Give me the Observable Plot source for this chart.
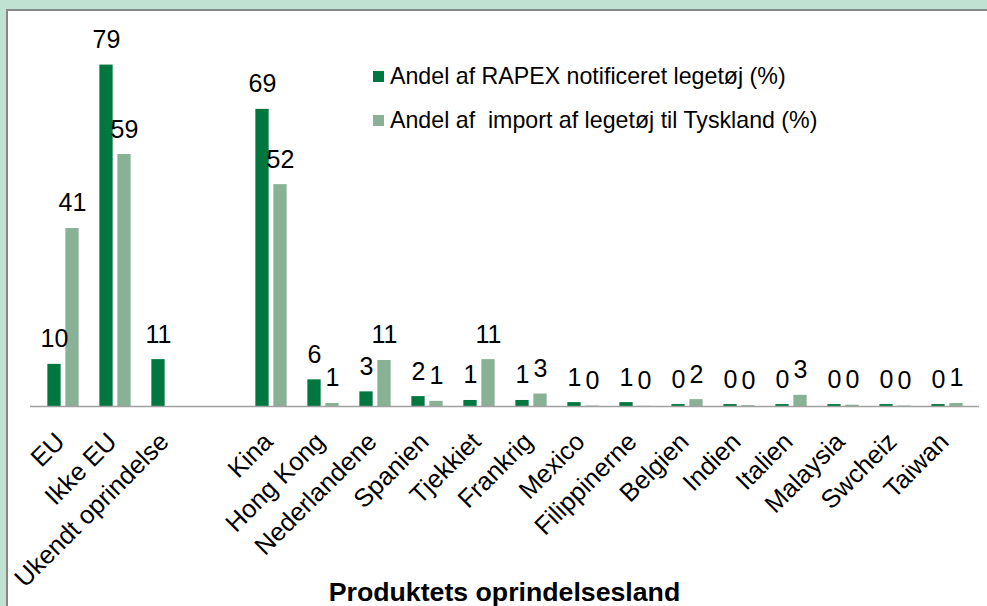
<!DOCTYPE html>
<html><head><meta charset="utf-8">
<script src="https://cdn.jsdelivr.net/npm/d3@7"></script>
<script src="https://cdn.jsdelivr.net/npm/@observablehq/plot@0.6"></script>
<style>
html,body{margin:0;padding:0;width:987px;height:606px;overflow:hidden;background:#bfe2d2;font-family:"Liberation Sans",Arial,sans-serif;}
#panel{position:absolute;left:6px;top:9px;width:1000px;height:620px;border-left:2px solid #878787;border-top:2px solid #878787;background:#fff;}
#chart{position:absolute;left:0;top:0;}
#legend{position:absolute;left:373px;top:63px;}
.row{display:flex;align-items:center;height:26px;margin-bottom:18px;font-size:23.2px;line-height:26px;white-space:pre;color:#000}
.sw{width:11px;height:11px;margin-right:6px;flex:none}
#xlabel{position:absolute;left:30px;width:949px;top:579px;text-align:center;font-weight:bold;font-size:26.7px;line-height:26px;color:#000}
</style></head>
<body><div id="panel"></div><div id="chart"></div><div id="legend"></div><div id="xlabel"></div>
<script>
const categories = ["EU", "Ikke EU", "Ukendt oprindelse", "Kina", "Hong Kong", "Nederlandene", "Spanien", "Tjekkiet", "Frankrig", "Mexico", "Filippinerne", "Belgien", "Indien", "Italien", "Malaysia", "Swcheiz", "Taiwan"];
const rapexShare  = [9.8, 79.4, 10.9, 69.1, 6.2, 3.4, 2.3, 1.4, 1.4, 0.9, 0.9, 0.45, 0.45, 0.45, 0.45, 0.45, 0.45];
const importShare = [41.4, 58.6, null, 51.6, 0.7, 10.7, 1.2, 10.9, 2.9, 0.1, 0.05, 1.6, 0.2, 2.6, 0.3, 0.1, 0.7];
const rapexLabels  = [10, 79, 11, 69, 6, 3, 2, 1, 1, 1, 1, 0, 0, 0, 0, 0, 0];
const importLabels = [41, 59, null, 52, 1, 11, 1, 11, 3, 0, 0, 2, 0, 3, 0, 0, 1];
const seriesNames = ["Andel af RAPEX notificeret legetøj (%)", "Andel af  import af legetøj til Tyskland (%)"];
const seriesColors = ["#00773e", "#88b196"];
const axisTitle = "Produktets oprindelsesland";

const gapKey = "\u2002";
const xDomain = [...categories.slice(0, 3), gapKey, ...categories.slice(3)];
const seriesValues = [rapexShare, importShare];
const seriesLabels = [rapexLabels, importLabels];
const rows = seriesNames.map((s, k) => categories.map((c, i) => ({cat: c, value: seriesValues[k][i], label: seriesLabels[k][i]})).filter(d => d.value != null));

const font = "Liberation Sans, Arial, sans-serif";
const marks = [];
rows.forEach((data, k) => {
  const off = k === 0 ? -9 : 9;
  marks.push(Plot.barY(data, {x: "cat", y: "value", fill: seriesColors[k], dx: off, insetLeft: 19.36, insetRight: 19.36}));
});
marks.push(Plot.ruleY([0], {stroke: "#a0a0a0", strokeWidth: 1.5}));
rows.forEach((data, k) => {
  const off = k === 0 ? -9 : 9;
  marks.push(Plot.text(data, {x: "cat", y: "value", text: d => String(d.label), dx: off, dy: -17, lineAnchor: "bottom", fontSize: 25, fill: "#000", fontFamily: font}));
});
marks.push(Plot.text(categories, {x: d => d, text: d => d, frameAnchor: "bottom", dx: -3, dy: 31, rotate: -45, textAnchor: "end", lineAnchor: "middle", fontSize: 25.5, fill: "#000", fontFamily: font}));

const chart = Plot.plot({
  width: 987, height: 606,
  marginLeft: 30, marginRight: 8, marginTop: 19, marginBottom: 200,
  x: {domain: xDomain, padding: 0, axis: null},
  y: {domain: [0, 90], axis: null},
  style: {background: "transparent", fontFamily: font, fontSize: "24px", color: "#000"},
  marks
});
document.getElementById("chart").appendChild(chart);

const legend = document.getElementById("legend");
seriesNames.forEach((s, k) => {
  const row = document.createElement("div");
  row.className = "row";
  const sw = document.createElement("span");
  sw.className = "sw";
  sw.style.background = seriesColors[k];
  const t = document.createElement("span");
  t.textContent = s;
  row.appendChild(sw); row.appendChild(t);
  legend.appendChild(row);
});
document.getElementById("xlabel").textContent = axisTitle;
</script>
</body></html>
